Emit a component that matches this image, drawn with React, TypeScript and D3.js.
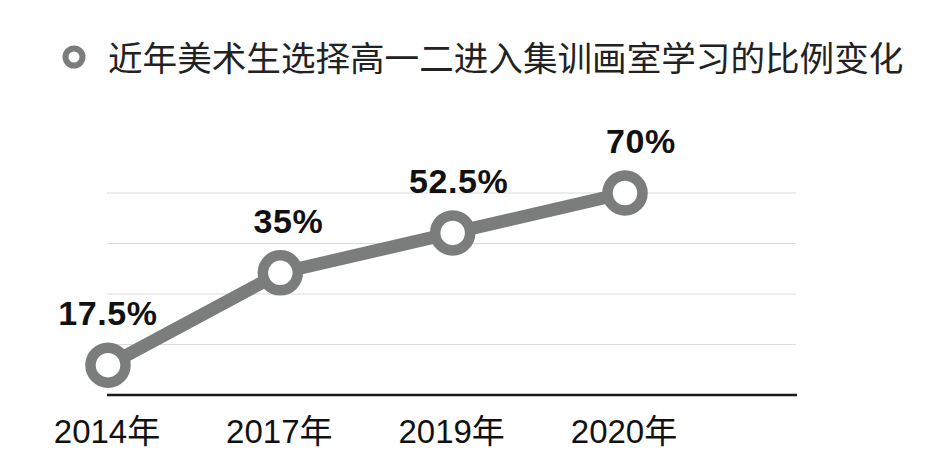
import React from "react";
import * as d3 from "d3";

const title = "近年美术生选择高一二进入集训画室学习的比例变化";
const years = ["2014年", "2017年", "2019年", "2020年"];
const valueLabels = ["17.5%", "35%", "52.5%", "70%"];
// heights as drawn in the picture, in grid-line units (0 = baseline, 4 = top grid line)
const plotLevels = [0.59, 2.42, 3.21, 4.0];
const gridLevels = [0, 1, 2, 3, 4];

const W = 947;
const H = 473;
const GRAY = "#7b7d7c";

export default function App() {
  const x = d3.scalePoint<string>().domain(years).range([108, 625]);
  const y = d3.scaleLinear().domain([0, 4]).range([395, 193]);
  const pts = years.map((yr, i) => [x(yr) as number, y(plotLevels[i])] as [number, number]);
  const line = d3.line();
  const labelDx = [0, 8, 6, 16];

  return (
    <svg width={W} height={H} style={{ position: "absolute", left: 0, top: 0, background: "#fff" }}>
      <rect width={W} height={H} fill="#fff" />
      {/* title with legend ring */}
      <circle cx={74} cy={57} r={8.5} fill="#fff" stroke={GRAY} strokeWidth={6} />
      <text x={108} y={71} fontSize={34.6} fill="#222" fontFamily="'Noto Sans CJK SC', sans-serif">
        {title}
      </text>
      {/* grid */}
      {gridLevels.slice(1).map((g) => (
        <line key={g} x1={107} x2={796} y1={y(g)} y2={y(g)} stroke="#dcdcdc" strokeWidth={1.2} />
      ))}
      <line x1={107} x2={797} y1={y(0)} y2={y(0)} stroke="#1a1a1a" strokeWidth={2.5} />
      {/* line */}
      <path d={line(pts) || ""} fill="none" stroke={GRAY} strokeWidth={13} strokeLinejoin="round" />
      {pts.map((p, i) => (
        <circle key={i} cx={p[0]} cy={p[1]} r={17.5} fill="#fff" stroke={GRAY} strokeWidth={10.5} />
      ))}
      {/* value labels */}
      {pts.map((p, i) => (
        <text
          key={"v" + i}
          x={p[0] + labelDx[i]}
          y={p[1] - 40}
          textAnchor="middle"
          fontSize={34}
          fontWeight="bold"
          letterSpacing={0.6}
          fill="#111"
          fontFamily="'Liberation Sans', Arial, sans-serif"
        >
          {valueLabels[i]}
        </text>
      ))}
      {/* x labels */}
      {years.map((yr) => (
        <text
          key={yr}
          x={(x(yr) as number) - 1}
          y={443}
          textAnchor="middle"
          fontSize={33}
          fill="#111"
          fontFamily="'Liberation Sans', 'Noto Sans CJK SC', sans-serif"
        >
          {yr}
        </text>
      ))}
    </svg>
  );
}
